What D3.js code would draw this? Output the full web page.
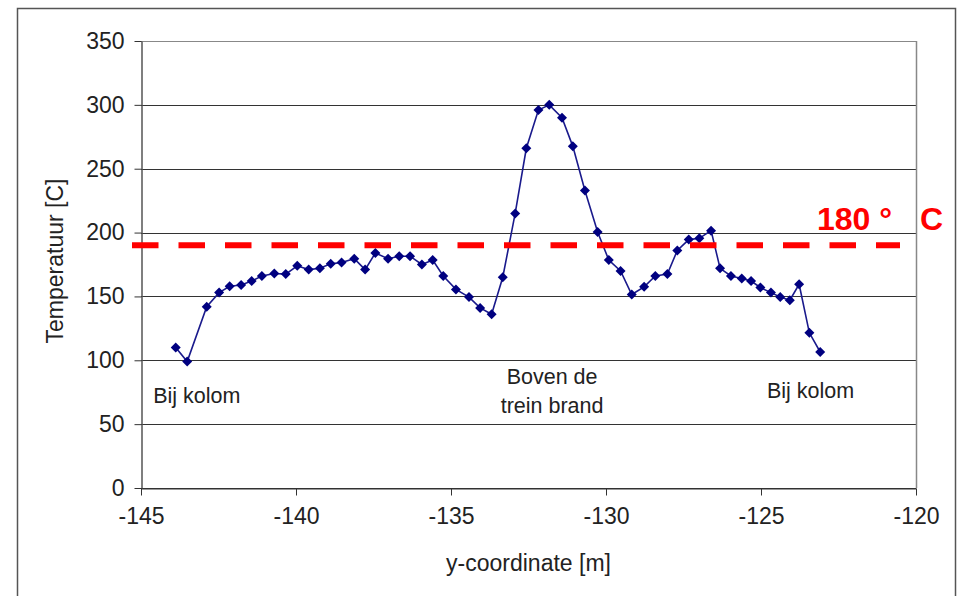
<!DOCTYPE html>
<html>
<head>
<meta charset="utf-8">
<script src="https://cdn.jsdelivr.net/npm/d3@7"></script>
<style>
  body { margin: 0; background: #fff; }
  svg text { font-family: "Liberation Sans", Arial, sans-serif; fill: #222; }
</style>
</head>
<body>
<svg id="chart"></svg>
<script>
// y-coordinate along the tunnel [m]
var yCoord = [-143.88, -143.51, -142.88, -142.48, -142.14, -141.77, -141.43, -141.10, -140.70, -140.33,
              -139.96, -139.59, -139.23, -138.88, -138.53, -138.12, -137.77, -137.44, -137.03, -136.67,
              -136.32, -135.94, -135.59, -135.25, -134.84, -134.42, -134.06, -133.69, -133.33, -132.93,
              -132.57, -132.18, -131.83, -131.42, -131.07, -130.68, -130.27, -129.91, -129.53, -129.17,
              -128.77, -128.41, -128.02, -127.70, -127.33, -126.99, -126.61, -126.32, -125.97, -125.62,
              -125.32, -125.02, -124.68, -124.38, -124.07, -123.77, -123.44, -123.09]
// temperatuur [C]
var temperature = [110, 99, 142, 153, 158, 159, 162, 166, 168, 167.5,
                   174, 171, 172, 175.5, 176.5, 179.5, 171, 184, 179.5, 181.5,
                   181.5, 175, 178.5, 166, 155.5, 149.5, 141, 136, 165, 215,
                   266, 296, 300, 290, 267.5, 233, 200.5, 178.5, 170, 151.5,
                   157.5, 166, 167.5, 186, 194.5, 195.5, 201.5, 172, 166, 164,
                   162, 157, 153, 149.5, 147, 159.5, 121.5, 106.5]
var xTicks = [-145, -140, -135, -130, -125, -120]
var yTicks = [0, 50, 100, 150, 200, 250, 300, 350]
var limit = 190
var limitLabel = "180 °"
var limitUnit = "C"
var notes = [
  {x: -143.2, y: 66.5, lines: ["Bij kolom"]},
  {x: -131.74, y: 81.5, lines: ["Boven de", "trein brand"]},
  {x: -123.4, y: 70.5, lines: ["Bij kolom"]}
]

var data = yCoord.map((d, i) => ({x: d, t: temperature[i]}))

var W = 964, H = 596
var pLeft = 141, pRight = 916, pTop = 41, pBottom = 488

var svg = d3.select("#chart").attr("width", W).attr("height", H)

// outer frame
svg.append("rect")
   .attr("x", 17.5).attr("y", 8.5)
   .attr("width", 938).attr("height", 600)
   .attr("fill", "none").attr("stroke", "#555").attr("stroke-width", 1.5)

var x = d3.scaleLinear().domain([-145, -120]).range([pLeft, pRight])
var y = d3.scaleLinear().domain([0, 350]).range([pBottom, pTop])

// grid
svg.append("g")
   .selectAll("line")
   .data(yTicks)
   .enter()
   .append("line")
   .attr("x1", pLeft).attr("x2", pRight)
   .attr("y1", d => Math.round(y(d)) + 0.5)
   .attr("y2", d => Math.round(y(d)) + 0.5)
   .attr("stroke", d => d == 350 ? "#888" : "#333")
   .attr("stroke-width", 1.2)

// right border
svg.append("line")
   .attr("x1", pRight + 0.5).attr("x2", pRight + 0.5)
   .attr("y1", pTop).attr("y2", pBottom)
   .attr("stroke", "#888").attr("stroke-width", 1.5)

var yAxis = svg.append("g")
   .attr("transform", "translate(" + (pLeft + 0.5) + ",0)")
   .call(d3.axisLeft(y).tickValues(yTicks).tickSize(7).tickPadding(10).tickSizeOuter(0))
yAxis.select(".domain").attr("stroke", "#555").attr("stroke-width", 1.5)
yAxis.selectAll(".tick line").attr("stroke", "#333")
yAxis.selectAll("text").style("font-size", "23px").attr("fill", "#222")

var xAxis = svg.append("g")
   .attr("transform", "translate(0," + (pBottom + 0.5) + ")")
   .call(d3.axisBottom(x).tickValues(xTicks).tickFormat(d => String(d)).tickSize(7).tickPadding(12).tickSizeOuter(0))
xAxis.select(".domain").attr("stroke", "#333").attr("stroke-width", 1.2)
xAxis.selectAll(".tick line").attr("stroke", "#333")
xAxis.selectAll("text").style("font-size", "23px").attr("fill", "#222")

// axis titles
svg.append("text")
   .text("y-coordinate [m]")
   .attr("x", (pLeft + pRight) / 2).attr("y", 571)
   .attr("text-anchor", "middle")
   .style("font-size", "23px")

svg.append("text")
   .text("Temperatuur [C]")
   .attr("transform", "translate(63,261) rotate(-90)")
   .attr("text-anchor", "middle")
   .style("font-size", "23px")

// series
var line = d3.line().x(d => x(d.x)).y(d => y(d.t))
svg.append("path")
   .datum(data)
   .attr("d", line)
   .attr("fill", "none")
   .attr("stroke", "#1a1a8c")
   .attr("stroke-width", 1.6)

svg.append("g")
   .selectAll("path")
   .data(data)
   .enter()
   .append("path")
   .attr("d", d3.symbol().type(d3.symbolSquare).size(50))
   .attr("transform", d => "translate(" + x(d.x) + "," + y(d.t) + ") rotate(45)")
   .attr("fill", "#000080")

// notes
notes.forEach(function(n) {
  var t = svg.append("text")
     .attr("x", x(n.x)).attr("y", y(n.y))
     .attr("text-anchor", "middle")
     .style("font-size", "21.5px")
  n.lines.forEach(function(s, i) {
    t.append("tspan").attr("x", x(n.x)).attr("dy", i == 0 ? 0 : 29).text(s)
  })
})

// limit line
svg.append("line")
   .attr("x1", 132).attr("x2", 900)
   .attr("y1", y(limit)).attr("y2", y(limit))
   .attr("stroke", "#ff0000")
   .attr("stroke-width", 6)
   .attr("stroke-dasharray", "26.5 20")

var lbl = svg.append("text")
   .attr("x", 817).attr("y", 230)
   .style("font-size", "32px")
   .style("font-weight", "bold")
   .style("fill", "#ff0000")
lbl.append("tspan").text(limitLabel)
lbl.append("tspan").attr("x", 920).text(limitUnit)
</script>
</body>
</html>
